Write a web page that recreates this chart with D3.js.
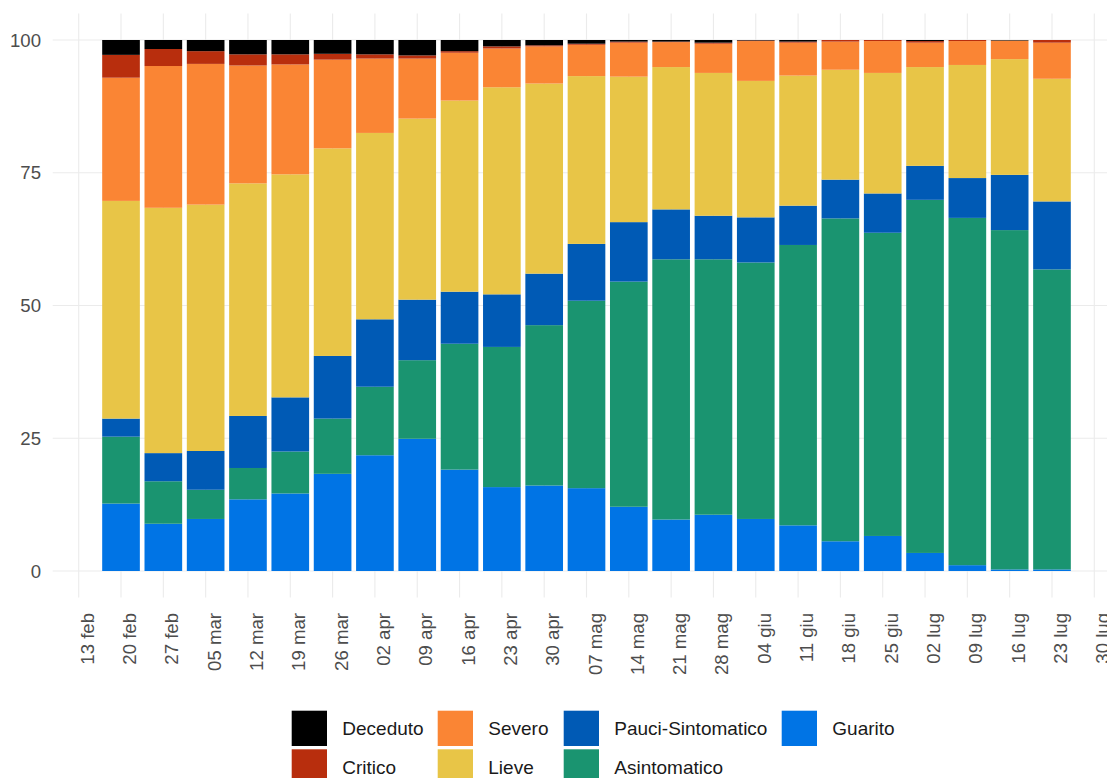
<!DOCTYPE html>
<html>
<head>
<meta charset="utf-8">
<script src="https://cdn.jsdelivr.net/npm/d3@7"></script>
<style>
  html, body { margin: 0; padding: 0; background: #fff; }
  svg { display: block; font-family: "Liberation Sans", Arial, sans-serif; }
</style>
</head>
<body>
<svg id="chart" width="1107" height="778"></svg>
<script>
// ---- data (percent of cases per week) ----
const weeks = ["2020-02-20","2020-02-27","2020-03-05","2020-03-12","2020-03-19","2020-03-26",
  "2020-04-02","2020-04-09","2020-04-16","2020-04-23","2020-04-30","2020-05-07","2020-05-14",
  "2020-05-21","2020-05-28","2020-06-04","2020-06-11","2020-06-18","2020-06-25","2020-07-02",
  "2020-07-09","2020-07-16","2020-07-23"];
const guarito      = [12.7, 8.9, 9.8,13.5,14.6,18.3,21.8,24.9,19.1,15.8,16.1,15.6,12.1, 9.7,10.6, 9.8, 8.6, 5.6, 6.6, 3.4, 1.1, 0.3, 0.3];
const asintomatico = [12.6, 8.0, 5.5, 5.9, 7.9,10.4,12.9,14.8,23.7,26.4,30.2,35.3,42.4,49.0,48.1,48.3,52.8,60.8,57.1,66.5,65.4,63.9,56.5];
const pauci        = [ 3.4, 5.3, 7.3, 9.8,10.2,11.8,12.7,11.4, 9.8, 9.9, 9.7,10.7,11.2, 9.4, 8.2, 8.5, 7.4, 7.3, 7.4, 6.4, 7.5,10.4,12.8];
const lieve        = [41.0,46.2,46.4,43.8,42.0,39.1,35.1,34.1,36.0,39.0,35.8,31.6,27.4,26.8,26.9,25.7,24.5,20.7,22.7,18.6,21.3,21.8,23.1];
const severo       = [23.2,26.7,26.5,22.2,20.7,16.7,14.0,11.3, 9.0, 7.3, 7.0, 5.9, 6.4, 4.7, 5.5, 7.5, 6.2, 5.3, 6.0, 4.6, 4.5, 3.5, 6.8];
const critico      = [ 4.3, 3.2, 2.4, 2.1, 1.9, 1.1, 0.8, 0.6, 0.3, 0.4, 0.2, 0.2, 0.2, 0.1, 0.2, 0.1, 0.2, 0.3, 0.2, 0.3, 0.2, 0.0, 0.5];
const deceduto     = [ 2.8, 1.7, 2.1, 2.7, 2.7, 2.6, 2.7, 2.9, 2.1, 1.2, 1.0, 0.7, 0.3, 0.3, 0.5, 0.1, 0.3, 0.0, 0.0, 0.2, 0.0, 0.1, 0.0];

const seriesKeys   = ["Guarito","Asintomatico","Pauci-Sintomatico","Lieve","Severo","Critico","Deceduto"];
const seriesValues = [guarito, asintomatico, pauci, lieve, severo, critico, deceduto];
const seriesColors = ["#0074E5","#1A9470","#005AB5","#E8C547","#FA8534","#B82E0D","#000000"];
const legendOrder  = ["Deceduto","Critico","Severo","Lieve","Pauci-Sintomatico","Asintomatico","Guarito"];

const tickDates  = ["2020-02-13","2020-02-20","2020-02-27","2020-03-05","2020-03-12","2020-03-19","2020-03-26",
  "2020-04-02","2020-04-09","2020-04-16","2020-04-23","2020-04-30","2020-05-07","2020-05-14","2020-05-21",
  "2020-05-28","2020-06-04","2020-06-11","2020-06-18","2020-06-25","2020-07-02","2020-07-09","2020-07-16",
  "2020-07-23","2020-07-30"];
const tickLabels = ["13 feb","20 feb","27 feb","05 mar","12 mar","19 mar","26 mar","02 apr","09 apr","16 apr",
  "23 apr","30 apr","07 mag","14 mag","21 mag","28 mag","04 giu","11 giu","18 giu","25 giu","02 lug","09 lug",
  "16 lug","23 lug","30 lug"];
const yTicks = [0, 25, 50, 75, 100];

// ---- build table ----
const parse = d3.utcParse("%Y-%m-%d");
const table = weeks.map((w, i) => {
  const row = { date: parse(w) };
  seriesKeys.forEach((k, j) => row[k] = seriesValues[j][i]);
  return row;
});

const svg = d3.select("#chart");
const panel = { left: 52.7, right: 1107, top: 13.5, bottom: 597.5 };

const x = d3.scaleUtc()
  .domain([parse("2020-02-13"), parse("2020-07-30")])
  .range([78.7, 1094.3]);
const y = d3.scaleLinear().domain([0, 100]).range([571, 40]);
const color = d3.scaleOrdinal().domain(seriesKeys).range(seriesColors);

const weekPx = x(parse("2020-02-20")) - x(parse("2020-02-13"));
const barW = weekPx * 0.89;

// grid
const grid = svg.append("g");
grid.selectAll("line.h").data(yTicks).join("line")
  .attr("x1", panel.left).attr("x2", panel.right)
  .attr("y1", d => y(d)).attr("y2", d => y(d))
  .attr("stroke", "#EBEBEB").attr("stroke-width", 1.1);
grid.selectAll("line.v").data(tickDates).join("line")
  .attr("x1", d => x(parse(d))).attr("x2", d => x(parse(d)))
  .attr("y1", panel.top).attr("y2", panel.bottom)
  .attr("stroke", "#EBEBEB").attr("stroke-width", 1.1);

// bars
const stacked = d3.stack().keys(seriesKeys)(table);
svg.append("g").selectAll("g").data(stacked).join("g")
  .attr("fill", d => color(d.key))
  .selectAll("rect").data(d => d).join("rect")
  .attr("x", d => x(d.data.date) - barW / 2)
  .attr("width", barW)
  .attr("y", d => y(d[1]))
  .attr("height", d => Math.max(0, y(d[0]) - y(d[1])));

// y axis labels
svg.append("g").selectAll("text").data(yTicks).join("text")
  .attr("x", 41).attr("y", d => y(d))
  .attr("dy", "0.35em")
  .attr("text-anchor", "end")
  .attr("font-size", 18.6)
  .attr("fill", "#4D4D4D")
  .text(d => d);

// x axis labels (rotated)
svg.append("g").selectAll("text").data(tickDates).join("text")
  .attr("transform", d => `translate(${x(parse(d)) + 15},613) rotate(-90)`)
  .attr("text-anchor", "end")
  .attr("font-size", 18.6)
  .attr("fill", "#4D4D4D")
  .text((d, i) => tickLabels[i]);

// legend
const colX = [291.7, 437.7, 563.7, 781.7];
const rowY = [710.7, 749.3];
const keySize = 35.3;
const leg = svg.append("g");
legendOrder.forEach((name, i) => {
  const c = Math.floor(i / 2), r = i % 2;
  const g = leg.append("g").attr("transform", `translate(${colX[c]},${rowY[r]})`);
  g.append("rect").attr("width", keySize).attr("height", keySize)
    .attr("fill", color(name));
  g.append("text").attr("x", 50.6).attr("y", keySize / 2).attr("dy", "0.36em")
    .attr("font-size", 19).attr("fill", "#1A1A1A").text(name);
});
</script>
</body>
</html>
